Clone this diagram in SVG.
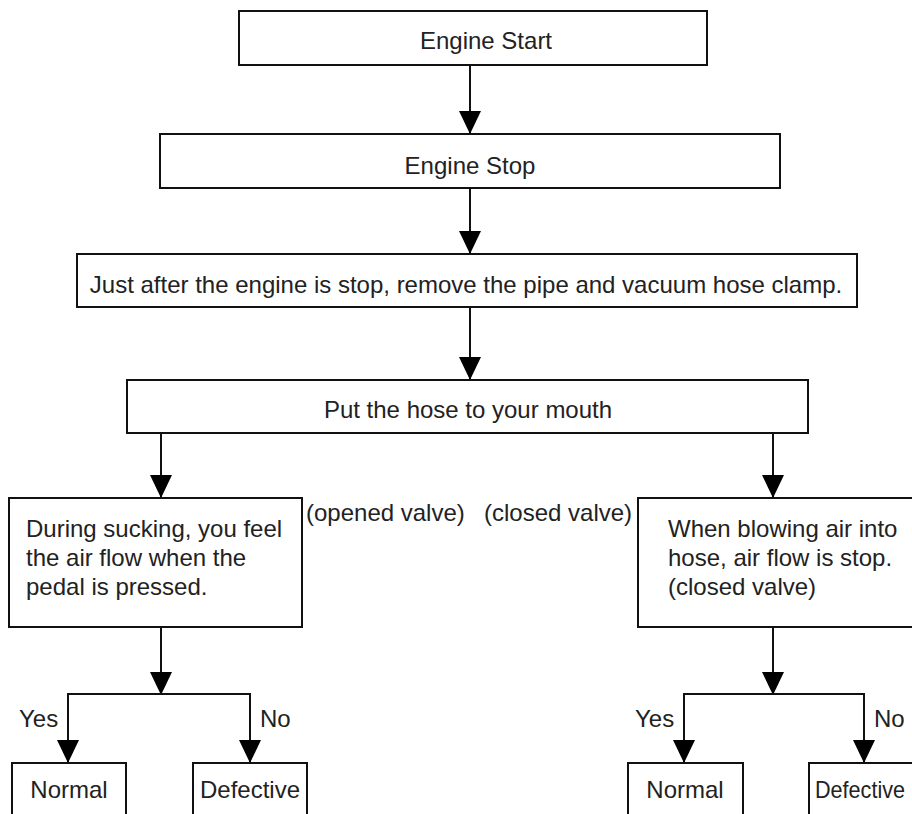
<svg xmlns="http://www.w3.org/2000/svg" width="912" height="814" viewBox="0 0 912 814">
  <defs>
    <style>
      .box { fill: #fff; stroke: #111; stroke-width: 2; }
      .wire { fill: none; stroke: #111; stroke-width: 2; }
      text { font-family: "Liberation Sans", Arial, Helvetica, sans-serif; font-size: 24px; fill: #222; }
      .mid { text-anchor: middle; }
    </style>
    <marker id="head" viewBox="0 -11 23 22" refX="23" refY="0" markerWidth="23" markerHeight="22" markerUnits="userSpaceOnUse" orient="auto">
      <path d="M0,-11 L23,0 L0,11 z" fill="#000"/>
    </marker>
  </defs>
  <rect width="912" height="814" fill="#fff"/>

  <!-- connectors -->
  <g id="connectors" class="wire" marker-end="url(#head)">
    <line x1="470" y1="65" x2="470" y2="134"/>
    <line x1="470" y1="188" x2="470" y2="254"/>
    <line x1="470" y1="307" x2="470" y2="380"/>
    <line x1="161" y1="433" x2="161" y2="498"/>
    <line x1="773" y1="433" x2="773" y2="498"/>
    <!-- left decision -->
    <line x1="161" y1="627" x2="161" y2="695"/>
    <path d="M161,694 H68 V763"/>
    <path d="M161,694 H250 V763"/>
    <!-- right decision -->
    <line x1="773" y1="627" x2="773" y2="695"/>
    <path d="M773,694 H684 V763"/>
    <path d="M773,694 H864 V763"/>
  </g>

  <g id="engine-start">
    <rect class="box" x="239" y="11" width="468" height="54"/>
    <text class="mid" x="486" y="49">Engine Start</text>
  </g>
  <g id="engine-stop">
    <rect class="box" x="160" y="134" width="620" height="54"/>
    <text class="mid" x="470" y="174">Engine Stop</text>
  </g>
  <g id="remove-clamp">
    <rect class="box" x="77" y="254" width="780" height="53"/>
    <text class="mid" x="466" y="293">Just after the engine is stop, remove the pipe and vacuum hose clamp.</text>
  </g>
  <g id="hose-mouth">
    <rect class="box" x="127" y="380" width="681" height="53"/>
    <text class="mid" x="468" y="418">Put the hose to your mouth</text>
  </g>
  <g id="sucking-check">
    <rect class="box" x="9" y="498" width="293" height="129"/>
    <text x="26" y="537">During sucking, you feel</text>
    <text x="26" y="566">the air flow when the</text>
    <text x="26" y="595">pedal is pressed.</text>
  </g>
  <g id="blowing-check">
    <rect class="box" x="638" y="498" width="280" height="129"/>
    <text x="668" y="537">When blowing air into</text>
    <text x="668" y="566">hose, air flow is stop.</text>
    <text x="668" y="595">(closed valve)</text>
  </g>
  <g id="valve-labels">
    <text x="306" y="521">(opened valve)</text>
    <text x="484" y="521">(closed valve)</text>
  </g>
  <g id="branch-labels">
    <text x="19" y="727">Yes</text>
    <text x="260" y="727">No</text>
    <text x="635" y="727">Yes</text>
    <text x="874" y="727">No</text>
  </g>
  <g id="left-normal">
    <rect class="box" x="12" y="763" width="114" height="60"/>
    <text class="mid" x="69" y="798">Normal</text>
  </g>
  <g id="left-defective">
    <rect class="box" x="193" y="763" width="114" height="60"/>
    <text class="mid" x="250" y="798">Defective</text>
  </g>
  <g id="right-normal">
    <rect class="box" x="628" y="763" width="115" height="60"/>
    <text class="mid" x="685" y="798">Normal</text>
  </g>
  <g id="right-defective">
    <rect class="box" x="809" y="763" width="114" height="60"/>
    <text x="815" y="798" textLength="90" lengthAdjust="spacingAndGlyphs">Defective</text>
  </g>
</svg>
